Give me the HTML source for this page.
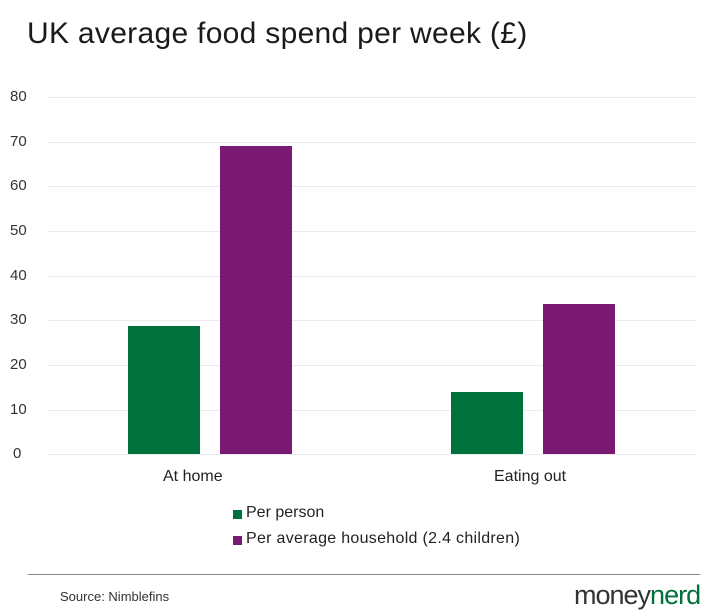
<!DOCTYPE html>
<html><head><meta charset="utf-8"><style>
body{margin:0;width:720px;height:615px;background:#fff;font-family:"Liberation Sans",sans-serif;color:#222;overflow:hidden;position:relative}
.a{position:absolute}
.g{position:absolute;left:48px;width:648px;height:1px;background:#ebebeb}
.t{position:absolute;left:10px;width:26px;text-align:left;font-size:15px;color:#333}
.b{position:absolute;width:72px}
</style></head><body>
<div class="a" style="left:27px;top:17px;font-size:30px;color:#1a1a1a;letter-spacing:0.3px">UK average food spend per week (£)</div>
<div class="g" style="top:97px"></div><div class="t" style="top:88px">80</div>
<div class="g" style="top:142px"></div><div class="t" style="top:133px">70</div>
<div class="g" style="top:186px"></div><div class="t" style="top:177px">60</div>
<div class="g" style="top:231px"></div><div class="t" style="top:222px">50</div>
<div class="g" style="top:276px"></div><div class="t" style="top:267px">40</div>
<div class="g" style="top:320px"></div><div class="t" style="top:311px">30</div>
<div class="g" style="top:365px"></div><div class="t" style="top:356px">20</div>
<div class="g" style="top:410px"></div><div class="t" style="top:401px">10</div>
<div class="g" style="top:454px"></div><div class="t" style="top:445px;left:13px">0</div>
<div class="b" style="left:128px;top:326px;height:128px;background:#00703c"></div>
<div class="b" style="left:220px;top:146px;height:308px;background:#7a1a72"></div>
<div class="b" style="left:451px;top:392px;height:62px;background:#00703c"></div>
<div class="b" style="left:543px;top:304px;height:150px;background:#7a1a72"></div>
<div class="a" style="left:163px;top:468px;font-size:16px">At home</div>
<div class="a" style="left:494px;top:468px;font-size:16px">Eating out</div>
<div class="a" style="left:233px;top:510px;width:9px;height:9px;background:#00703c"></div>
<div class="a" style="left:246px;top:504px;font-size:16px">Per person</div>
<div class="a" style="left:233px;top:536px;width:9px;height:9px;background:#7a1a72"></div>
<div class="a" style="left:246px;top:530px;font-size:16px;letter-spacing:0.3px">Per average household (2.4 children)</div>
<div class="a" style="left:28px;top:574px;width:672px;height:1px;background:#888"></div>
<div class="a" style="left:60px;top:589px;font-size:13px;color:#333">Source: Nimblefins</div>
<div class="a" style="left:574px;top:580px;font-size:27px;letter-spacing:-1px"><span style="color:#333">money</span><span style="color:#00703c">nerd</span></div>
</body></html>
